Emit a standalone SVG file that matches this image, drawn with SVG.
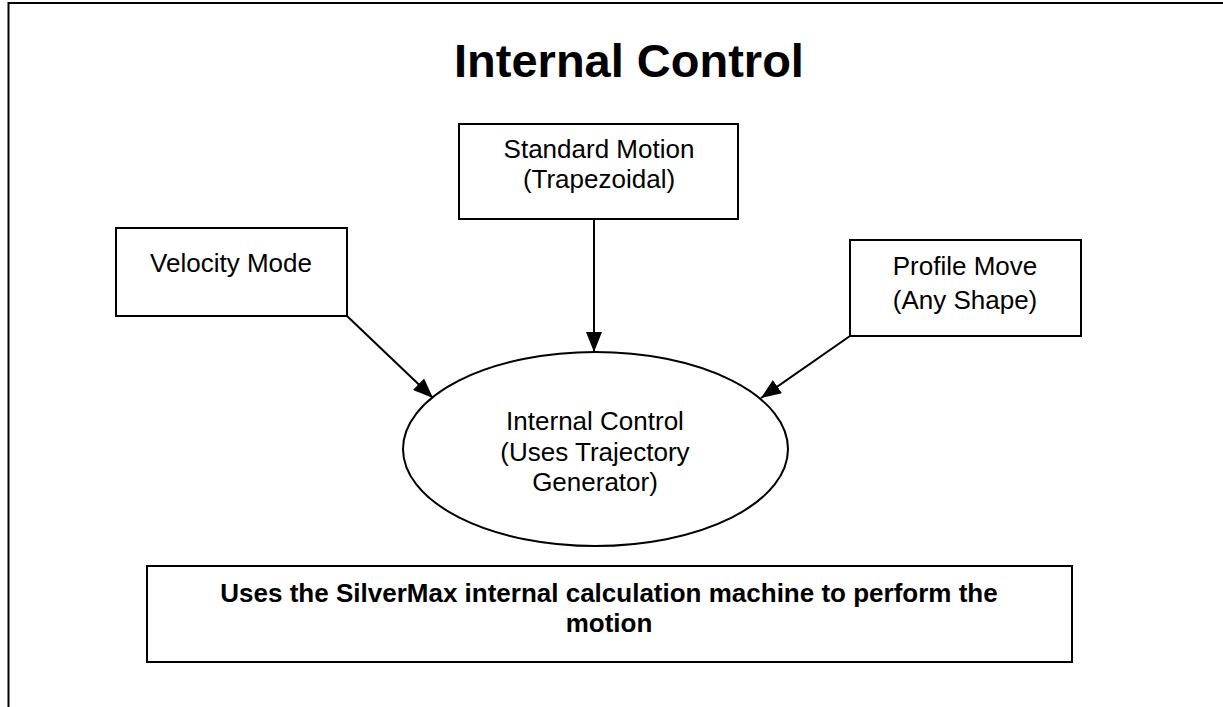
<svg xmlns="http://www.w3.org/2000/svg" width="1223" height="707" viewBox="0 0 1223 707">
<style>
.box{fill:#fff;stroke:#000;stroke-width:2}
.t{font-family:"Liberation Sans",Arial,sans-serif;font-size:26px;text-anchor:middle;fill:#000}
.b{font-family:"Liberation Sans",Arial,sans-serif;font-weight:bold;text-anchor:middle;fill:#000}
.c{stroke:#000;stroke-width:2;fill:none;marker-end:url(#ah)}
</style>
<defs>
<marker id="ah" markerWidth="20" markerHeight="16" refX="20" refY="8" orient="auto" markerUnits="userSpaceOnUse">
<path d="M0,0 L20,8 L0,16 Z" fill="#000"/>
</marker>
</defs>
<rect x="8.5" y="3" width="1230" height="720" fill="none" stroke="#000" stroke-width="2"/>
<text class="b" x="629" y="77" font-size="47">Internal Control</text>
<g id="connectors">
<line class="c" x1="594" y1="219" x2="594" y2="352"/>
<line class="c" x1="347" y1="316" x2="433" y2="398"/>
<line class="c" x1="850" y1="336" x2="761" y2="398"/>
</g>
<g id="standard">
<rect class="box" x="459" y="124" width="279" height="95"/>
<text class="t" x="599" y="158">Standard Motion</text>
<text class="t" x="599" y="188">(Trapezoidal)</text>
</g>
<g id="velocity">
<rect class="box" x="116" y="228" width="231" height="88"/>
<text class="t" x="231" y="272">Velocity Mode</text>
</g>
<g id="profile">
<rect class="box" x="850" y="240" width="231" height="96"/>
<text class="t" x="965" y="275">Profile Move</text>
<text class="t" x="965" y="309">(Any Shape)</text>
</g>
<g id="internal">
<ellipse class="box" cx="595.5" cy="449" rx="192.5" ry="97"/>
<text class="t" x="595" y="430">Internal Control</text>
<text class="t" x="595" y="461">(Uses Trajectory</text>
<text class="t" x="595" y="491">Generator)</text>
</g>
<g id="note">
<rect class="box" x="147" y="566" width="925" height="96"/>
<text class="b" x="609" y="602" font-size="26">Uses the SilverMax internal calculation machine to perform the</text>
<text class="b" x="609" y="632" font-size="26">motion</text>
</g>
</svg>
